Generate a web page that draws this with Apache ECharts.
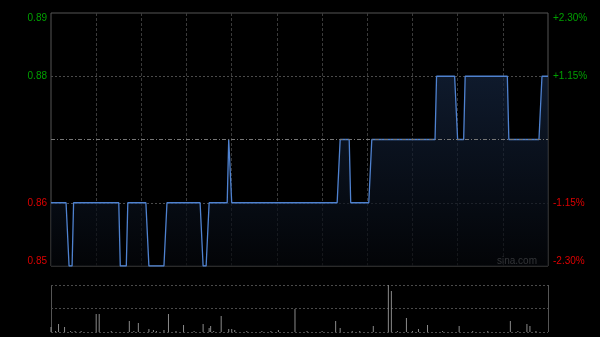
<!DOCTYPE html>
<html>
<head>
<meta charset="utf-8">
<script src="https://cdn.jsdelivr.net/npm/echarts@6/dist/echarts.min.js"></script>
<style>
html,body{margin:0;padding:0;background:#000;}
#c{width:600px;height:337px;}
</style>
</head>
<body>
<div id="c"></div>
<script>
// ---- data ----
var prevClose = 0.87;
// price as runs: [price, number of minutes]
var priceRuns = [
  [0.86,12],[0.85,3],[0.86,31],[0.85,5],[0.86,14],[0.85,12],[0.86,24],[0.85,4],
  [0.86,13],[0.87,2],[0.86,72],[0.87,7],[0.86,14],[0.87,43],[0.88,14],[0.87,5],
  [0.88,29],[0.87,22],[0.88,5]
];
// volume: [minute index, volume (thousand shares)]
var volumePoints = [
  [0,50],[3,10],[5,80],[9,50],[13,10],[16,10],[20,10],[30,180],[32,180],[40,10],
  [52,110],[55,10],[58,90],[65,30],[68,20],[70,10],[75,20],[78,180],[83,10],[88,70],
  [95,10],[101,80],[105,40],[106,60],[108,10],[113,160],[118,30],[120,30],[122,20],
  [130,10],[140,10],[146,10],[151,20],[162,230],[170,10],[180,10],[189,110],[192,40],
  [200,10],[205,10],[214,60],[224,470],[226,410],[230,10],[236,140],[240,10],[244,30],
  [250,70],[260,10],[271,60],[280,10],[290,10],[305,110],[310,10],[316,80],[318,60],[322,10]
];
var tickValues = [0.89, 0.88, 0.86, 0.85];
var leftTickLabels = ['0.89', '0.88', '0.86', '0.85'];
var rightTickLabels = ['+2.30%', '+1.15%', '-1.15%', '-2.30%'];

// ---- build series ----
var times = [];
(function(){
  for (var m = 0; m <= 150; m++) { var t = 9*60+30+m; times.push(pad(Math.floor(t/60))+':'+pad(t%60)); }
  for (var m2 = 1; m2 <= 180; m2++) { var t2 = 13*60+m2; times.push(pad(Math.floor(t2/60))+':'+pad(t2%60)); }
  function pad(n){ return (n<10?'0':'')+n; }
})();
var price = [];
priceRuns.forEach(function(r){ for (var i=0;i<r[1];i++) price.push(r[0]); });
var volume = times.map(function(){ return 0; });
volumePoints.forEach(function(p){ volume[p[0]] = p[1]; });
var volMax = Math.max.apply(null, volume);

function findTick(v){
  for (var k=0;k<tickValues.length;k++) if (Math.abs(v-tickValues[k])<1e-6) return k;
  return -1;
}
var GREEN = '#00a000', RED = '#dd0000';
var FONT = 'Liberation Sans, Arial, Helvetica, sans-serif';

var chart = echarts.init(document.getElementById('c'), null, {renderer:'canvas'});
chart.setOption({
  backgroundColor: '#000',
  animation: false,
  textStyle: {fontFamily: FONT},
  grid: [
    {left: 51, right: 52, top: 13, height: 253, show: true, borderColor: '#555', borderWidth: 1, backgroundColor: 'transparent'},
    {left: 51, right: 52, top: 285, height: 47, show: false}
  ],
  xAxis: [
    {type: 'category', gridIndex: 0, data: times, boundaryGap: false,
     axisLine: {show: false}, axisTick: {show: false}, axisLabel: {show: false},
     splitLine: {show: true, interval: function(i){ return i>0 && i<330 && i%30===0; },
       lineStyle: {color: '#3a3a3a', type: [3,2], width: 1}}},
    {type: 'category', gridIndex: 1, data: times, boundaryGap: false,
     axisLine: {show: false}, axisTick: {show: false}, axisLabel: {show: false}, splitLine: {show: false}}
  ],
  yAxis: [
    {type: 'value', gridIndex: 0, min: 0.85, max: 0.89, interval: 0.01, position: 'left',
     axisLine: {show: false}, axisTick: {show: false},
     splitLine: {show: true, lineStyle: {color: ['rgba(0,0,0,0)','#4a4a4a','rgba(0,0,0,0)','#4a4a4a','rgba(0,0,0,0)'], type: [2,2]}},
     axisLabel: {margin: 4, fontSize: 10, fontFamily: FONT,
       verticalAlignMaxLabel: 'top', verticalAlignMinLabel: 'bottom',
       formatter: function(v){ var k=findTick(v); return k<0?'':leftTickLabels[k]; },
       color: function(v){ return v>prevClose?GREEN:RED; }}},
    {type: 'value', gridIndex: 0, min: 0.85, max: 0.89, interval: 0.01, position: 'right',
     axisLine: {show: false}, axisTick: {show: false}, splitLine: {show: false},
     axisLabel: {margin: 5, fontSize: 10, fontFamily: FONT,
       verticalAlignMaxLabel: 'top', verticalAlignMinLabel: 'bottom',
       formatter: function(v){ var k=findTick(v); return k<0?'':rightTickLabels[k]; },
       color: function(v){ return v>prevClose?GREEN:RED; }}},
    {type: 'value', gridIndex: 1, min: 0, max: volMax, interval: volMax/2,
     axisLine: {show: false}, axisTick: {show: false}, axisLabel: {show: false},
     splitLine: {show: true, lineStyle: {color: '#4a4a4a', type: [2,2]}}}
  ],
  series: [
    {type: 'line', xAxisIndex: 0, yAxisIndex: 0, data: price, symbol: 'none', silent: true,
     lineStyle: {color: '#4f82d0', width: 1.3},
     areaStyle: {color: new echarts.graphic.LinearGradient(0,0,0,1,[{offset:0,color:'#15253f'},{offset:1,color:'#04060a'}])},
     markLine: {silent: true, symbol: 'none', label: {show: false},
       lineStyle: {color: '#777', type: [4,2,1,2], width: 1},
       data: [{yAxis: prevClose}]}},
    {type: 'bar', xAxisIndex: 1, yAxisIndex: 2, data: volume, barWidth: 1, silent: true,
     itemStyle: {color: '#8a8a8a'}}
  ],
  graphic: [
    {type: 'line', shape: {x1: 51.5, y1: 285, x2: 51.5, y2: 332}, style: {stroke: '#555', lineWidth: 1}, silent: true},
    {type: 'line', shape: {x1: 548.5, y1: 285, x2: 548.5, y2: 332}, style: {stroke: '#555', lineWidth: 1}, silent: true},
    {type: 'text', right: 63, top: 256, style: {text: 'sina.com', fill: '#9a9a9a', font: '10px ' + FONT}, silent: true}
  ]
});
</script>
</body>
</html>
